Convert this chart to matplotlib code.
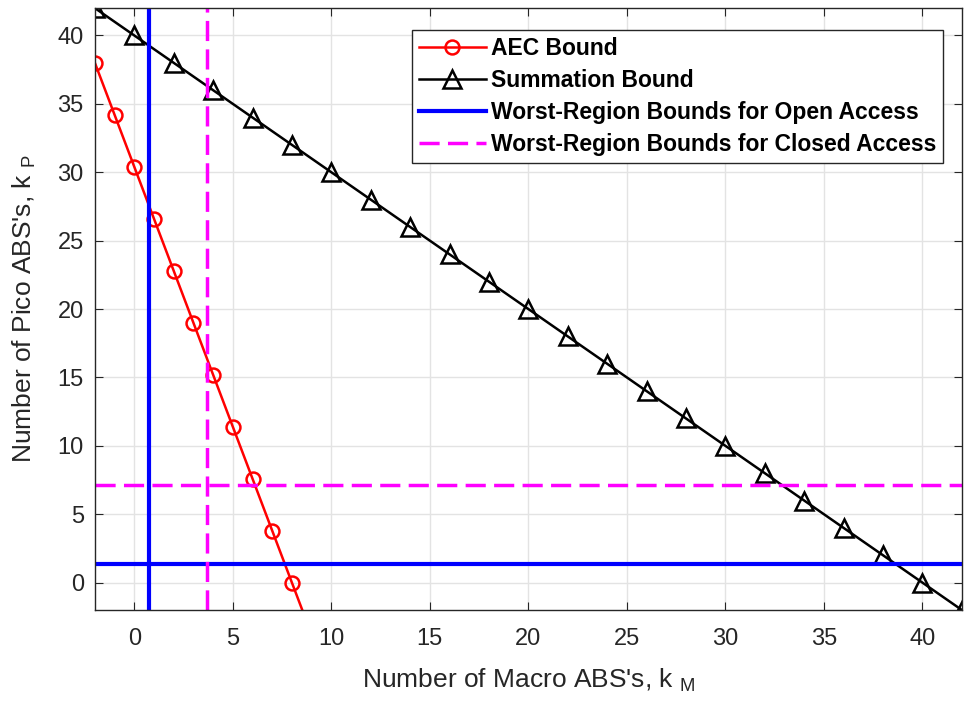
import numpy as np
import matplotlib.pyplot as plt

plt.rcParams['font.family'] = ['Liberation Sans', 'DejaVu Sans']
plt.rcParams['mathtext.fontset'] = 'custom'
plt.rcParams['mathtext.rm'] = 'Liberation Sans'

# AEC bound (markers at integer k_M)
aec_x = [-2, -1, 0, 1, 2, 3, 4, 5, 6, 7, 8, 9]
aec_y = [38, 34.2, 30.4, 26.6, 22.8, 19.0, 15.2, 11.4, 7.6, 3.8, 0, -3.8]

# summation bound
sum_x = [-2, 0, 2, 4, 6, 8, 10, 12, 14, 16, 18, 20, 22, 24, 26, 28, 30, 32, 34, 36, 38, 40, 42]
sum_y = [42, 40, 38, 36, 34, 32, 30, 28, 26, 24, 22, 20, 18, 16, 14, 12, 10, 8, 6, 4, 2, 0, -2]

# worst-region bounds
open_kM, open_kP = 0.73, 1.39
closed_kM, closed_kP = 3.71, 7.15

fig = plt.figure(figsize=(9.68, 7.09), dpi=100)
ax = fig.add_axes([0.098, 0.1396, 0.8957, 0.849])

ax.plot(aec_x, aec_y, color='red', lw=1.8, marker='o', ms=10, mfc='none', mew=1.8,
        label='AEC Bound')
ax.plot(sum_x, sum_y, color='black', lw=1.8, marker='^', ms=12.5, mfc='none', mew=1.8,
        label='Summation Bound')
ax.axvline(open_kM, color='#0000ff', lw=3, label='Worst-Region Bounds for Open Access')
ax.axhline(open_kP, color='#0000ff', lw=3)
ax.axvline(closed_kM, color='#ff00ff', lw=2.5, ls=(0, (5.8, 2.4)),
           label='Worst-Region Bounds for Closed Access')
ax.axhline(closed_kP, color='#ff00ff', lw=2.5, ls=(0, (5.8, 2.4)))

ax.set_xlim(-2, 42)
ax.set_ylim(-2, 42)
ax.set_xticks(np.arange(0, 41, 5))
ax.set_yticks(np.arange(0, 41, 5))
ax.grid(True, color='#e3e3e3', lw=1)
ax.set_axisbelow(True)
ax.tick_params(direction='in', length=6, labelsize=17, top=True, right=True,
               colors='#262626')
ax.tick_params(axis='x', pad=13)
ax.tick_params(axis='y', pad=8)
for s in ax.spines.values():
    s.set_color('#262626')
    s.set_linewidth(1)

ax.set_xlabel("Number of Macro ABS's, k $_{\\rm M}$", fontsize=19, color='#262626')
ax.set_ylabel("Number of Pico ABS's, k $_{\\rm P}$", fontsize=19, color='#262626')
ax.xaxis.set_label_coords(0.5, -0.094)
ax.yaxis.set_label_coords(-0.066, 0.5)

leg = ax.legend(loc='upper right', bbox_to_anchor=(0.978, 0.964),
                prop={'weight': 'bold', 'size': 16.5}, fancybox=False, framealpha=1,
                edgecolor='#262626', handlelength=2.9, borderpad=0.3,
                labelspacing=0.4, handletextpad=0.22, borderaxespad=0)
leg.get_frame().set_linewidth(1)

fig.savefig('out.png', dpi=100)
